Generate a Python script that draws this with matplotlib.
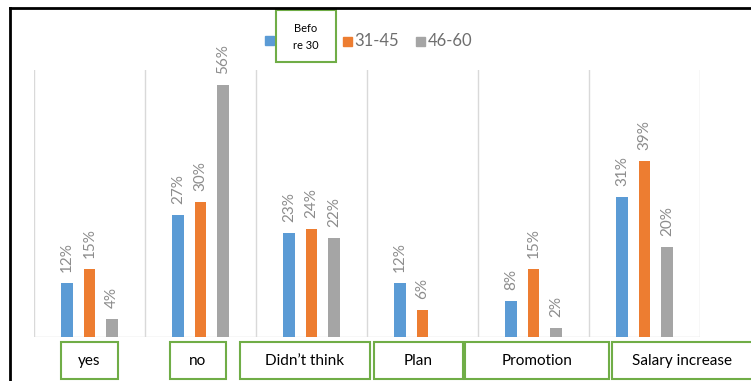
import numpy as np
import matplotlib
matplotlib.use("Agg")
from matplotlib import pyplot as plt
from matplotlib.patches import Rectangle
from matplotlib.lines import Line2D

# Survey answers by age group (percent)
categories = ["yes", "no", "Didn\u2019t think", "Plan", "Promotion", "Salary increase"]
series_names = ["Befo\nre 30", "31-45", "46-60"]
before_30 = [12, 27, 23, 12, 8, 31]
age_31_45 = [15, 30, 24, 6, 15, 39]
age_46_60 = [4, 56, 22, None, 2, 20]

COLORS = ["#5B9BD5", "#ED7D31", "#A5A5A5"]
GREEN = "#70AD47"
W, H = 751, 381

# category label boxes: left / right edge in figure pixels
BOX_SPANS = [(61, 118), (170, 226), (240, 370), (374, 463), (465, 609), (612, 760)]

plt.rcParams['font.family'] = ['Lato', 'DejaVu Sans']

fig = plt.figure(figsize=(W / 100, H / 100), dpi=100)
ax = fig.add_axes([34 / W, (H - 337) / H, (700 - 34) / W, (337 - 70) / H])

x = np.arange(len(categories))
width = 0.108
step = 0.203
for i, vals in enumerate([before_30, age_31_45, age_46_60]):
    for j, v in enumerate(vals):
        if v is None:
            continue
        xp = x[j] + (i - 1) * step
        ax.bar(xp, v, width=width, color=COLORS[i], zorder=3)
        ax.annotate(f"{v}%", (xp, v), xytext=(0, 8), textcoords="offset points",
                    rotation=90, ha="center", va="bottom", fontsize=11,
                    color="#8C8C8C")

ax.set_xlim(-0.5, len(categories) - 0.5)
ax.set_ylim(0, 59.3)
for b in np.arange(-0.5, len(categories), 1):
    ax.axvline(b, color="#D9D9D9", lw=1, zorder=1)
ax.axhline(0, color="#D9D9D9", lw=1, zorder=2)
for s in ax.spines.values():
    s.set_visible(False)
ax.set_xticks([])
ax.set_yticks([])

# black frame on the top and left
fig.add_artist(Line2D([10 / W, 10 / W], [0, (H - 8) / H], color="black", lw=2))
fig.add_artist(Line2D([10 / W, 1], [(H - 8) / H, (H - 8) / H], color="black", lw=2))

# green label boxes under each category
for (l, r), name in zip(BOX_SPANS, categories):
    fig.add_artist(Rectangle((l / W, (H - 379) / H), (r - l) / W, 37 / H,
                             transform=fig.transFigure, facecolor="white",
                             edgecolor=GREEN, lw=1.5))
    fig.text((l + min(r, W)) / 2 / W, (H - 361) / H, name, ha="center",
             va="center", fontsize=11, color="black")

# legend
fig.add_artist(Rectangle((265 / W, (H - 45) / H), 9 / W, 9 / H,
                         transform=fig.transFigure, color=COLORS[0]))
fig.add_artist(Rectangle((276 / W, (H - 62) / H), 60 / W, 52 / H,
                         transform=fig.transFigure, facecolor="white",
                         edgecolor=GREEN, lw=1.5))
fig.text(306 / W, (H - 37) / H, series_names[0], ha="center", va="center",
         fontsize=8, color="black", linespacing=1.7)
fig.add_artist(Rectangle((343 / W, (H - 46) / H), 9 / W, 9 / H,
                         transform=fig.transFigure, color=COLORS[1]))
fig.text(354 / W, (H - 41) / H, series_names[1], ha="left", va="center",
         fontsize=12, color="#6E6E6E")
fig.add_artist(Rectangle((416 / W, (H - 46) / H), 9 / W, 9 / H,
                         transform=fig.transFigure, color=COLORS[2]))
fig.text(428 / W, (H - 41) / H, series_names[2], ha="left", va="center",
         fontsize=12, color="#6E6E6E")

fig.savefig("out.png", dpi=100)
